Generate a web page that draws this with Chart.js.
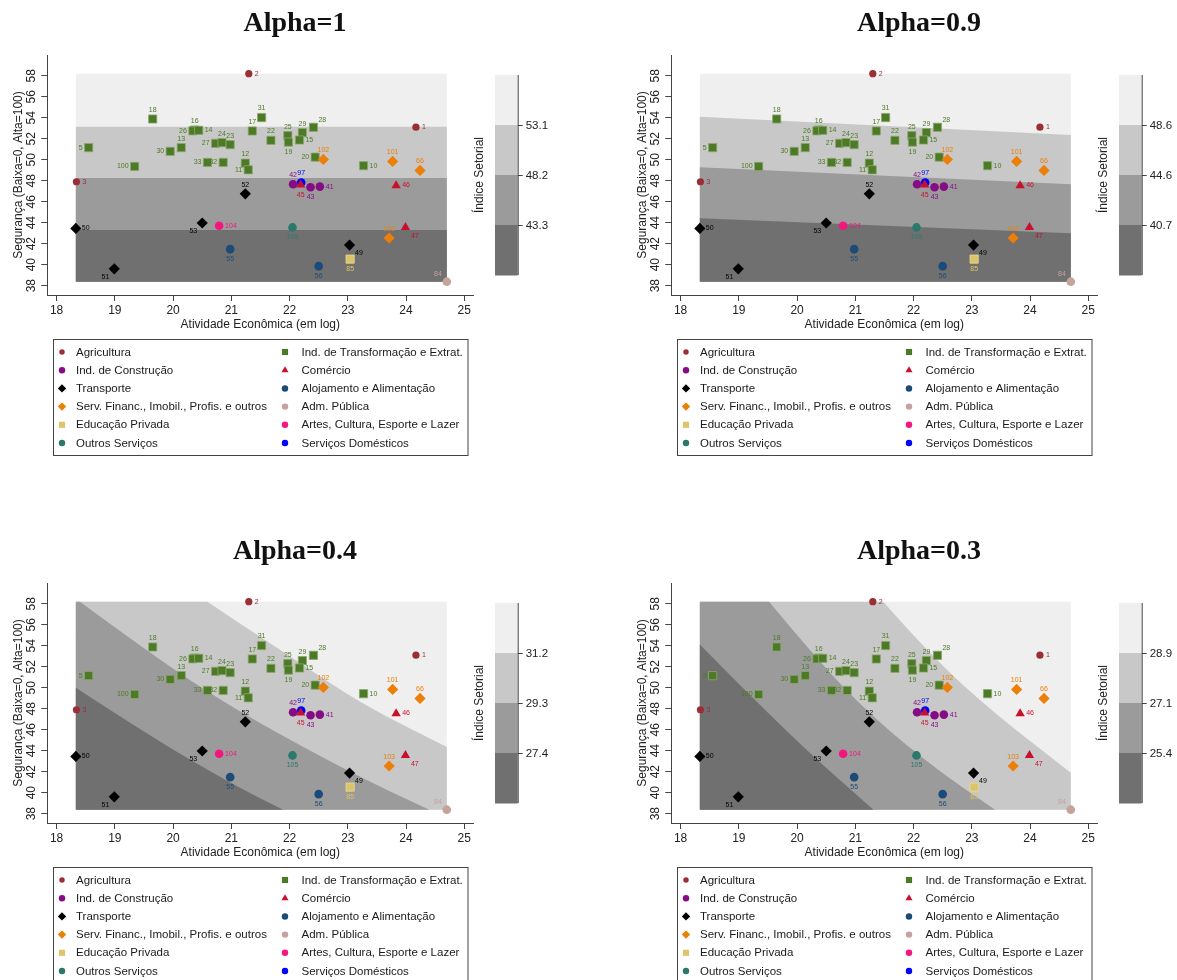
<!DOCTYPE html>
<html>
<head>
<meta charset="utf-8">
<script src="https://cdn.jsdelivr.net/npm/chart.js@4.4.1/dist/chart.umd.min.js"></script>
<style>
html, body { margin: 0; padding: 0; background: #fff; width: 1177px; height: 980px; overflow: hidden; }
.panel { position: absolute; width: 553px; height: 470px; }
</style>
</head>
<body>
<div class="panel" style="left:0px;top:0px"><canvas id="c0" width="553" height="470"></canvas></div>
<div class="panel" style="left:624px;top:0px"><canvas id="c1" width="553" height="470"></canvas></div>
<div class="panel" style="left:0px;top:528px"><canvas id="c2" width="553" height="470"></canvas></div>
<div class="panel" style="left:624px;top:528px"><canvas id="c3" width="553" height="470"></canvas></div>
<script>
// sectors (legend order: first six left column, last six right column)
const sectors = [
    "Agricultura",
    "Ind. de Construção",
    "Transporte",
    "Serv. Financ., Imobil., Profis. e outros",
    "Educação Privada",
    "Outros Serviços",
    "Ind. de Transformação e Extrat.",
    "Comércio",
    "Alojamento e Alimentação",
    "Adm. Pública",
    "Artes, Cultura, Esporte e Lazer",
    "Serviços Domésticos",
];

// point ids, economic activity (log) and safety per sector
const sectorIds = [
    [2, 3, 1],
    [42, 43, 41],
    [52, 50, 53, 51, 49],
    [102, 101, 66, 103],
    [85],
    [105],
    [18, 16, 26, 14, 5, 13, 30, 100, 27, 24, 23, 33, 32, 12, 11, 17, 31, 22, 25, 19, 29, 15, 28, 20, 10],
    [45, 46, 47],
    [55, 56],
    [84],
    [104],
    [97],
];
const sectorX = [
    [21.30, 18.34, 24.17],
    [22.06, 22.36, 22.52],
    [21.24, 18.33, 20.50, 18.99, 23.03],
    [22.58, 23.77, 24.24, 23.71],
    [23.04],
    [22.05],
    [19.65, 20.37, 20.34, 20.44, 18.55, 20.14, 19.95, 19.34, 20.73, 20.84, 20.98, 20.59, 20.86, 21.24, 21.29,
     21.36, 21.52, 21.68, 21.97, 21.98, 22.22, 22.17, 22.41, 22.44, 23.27],
    [22.19, 23.83, 23.99],
    [20.98, 22.50],
    [24.70],
    [20.79],
    [22.20],
];
const sectorY = [
    [58.2, 47.9, 53.1],
    [47.67, 47.38, 47.44],
    [46.75, 43.45, 43.97, 39.6, 41.87],
    [50.03, 49.84, 48.98, 42.54],
    [40.53],
    [43.55],
    [53.88, 52.83, 52.75, 52.8, 51.15, 51.15, 50.8, 49.36, 51.56, 51.63, 51.44, 49.74, 49.74, 49.67, 49.04,
     52.74, 54.02, 51.85, 52.3, 51.68, 52.58, 51.88, 53.09, 50.25, 49.43],
    [47.6, 47.54, 43.55],
    [41.48, 39.86],
    [38.38],
    [43.71],
    [47.83],
];

// panels
const alphaTitles = ["Alpha=1", "Alpha=0.9", "Alpha=0.4", "Alpha=0.3"];
const colorbarLevels = [
    [43.3, 48.2, 53.1],
    [40.7, 44.6, 48.6],
    [27.4, 29.3, 31.2],
    [25.4, 27.1, 28.9],
];
// contour band boundaries (x, y), lightest boundary first
const contourLines = [
    [
        [[18.33, 53.15], [24.70, 53.15]],
        [[18.33, 48.25], [24.70, 48.25]],
        [[18.33, 43.3], [24.70, 43.3]],
    ],
    [
        [[18.33, 54.10], [24.70, 52.36]],
        [[18.33, 49.28], [24.70, 47.66]],
        [[18.33, 44.42], [24.70, 42.99]],
    ],
    [
        [[20.59, 58.2], [20.98, 56.74], [22.0, 53.0], [23.27, 48.33], [24.70, 44.36]],
        [[18.40, 58.2], [19.6, 53.3], [20.98, 48.17], [23.04, 41.9], [24.40, 38.38]],
        [[18.33, 50.0], [19.6, 45.4], [20.98, 40.9], [21.89, 38.38]],
    ],
    [
        [[21.48, 58.2], [22.3, 53.03], [23.4, 47.5], [24.70, 41.9]],
        [[19.52, 58.2], [20.4, 52.3], [21.34, 47.0], [22.4, 42.2], [23.40, 38.38]],
        [[18.33, 54.11], [19.8, 45.8], [21.31, 38.38]],
    ],
];

const xTicks = [18, 19, 20, 21, 22, 23, 24, 25];
const yTicks = [38, 40, 42, 44, 46, 48, 50, 52, 54, 56, 58];

// label position around each marker (clock)
const labelPos = {
    2: 3, 3: 3, 1: 3, 42: 12, 43: 6, 41: 3, 52: 12, 50: 3, 53: 7, 51: 7, 49: 4,
    102: 12, 101: 12, 66: 12, 103: 12, 85: 6, 105: 6,
    18: 12, 16: 12, 26: 9, 14: 3, 5: 9, 13: 12, 30: 9, 100: 9, 27: 9, 24: 12, 23: 12, 33: 9, 32: 9,
    12: 12, 11: 9, 17: 12, 31: 12, 22: 12, 25: 12, 19: 6, 29: 12, 15: 3, 28: 1, 20: 9, 10: 3,
    45: 6, 46: 3, 47: 4, 55: 6, 56: 6, 84: 11, 104: 3, 97: 12,
};

const sectorStyle = [
    { shape: "circle", color: "#9a2e36", r: 3.6 },
    { shape: "circle", color: "#860c86", r: 4.3 },
    { shape: "rectRot", color: "#000000", r: 5.6 },
    { shape: "rectRot", color: "#eb7f08", r: 5.6 },
    { shape: "rect", color: "#dcc46a", r: 5.8, border: "#e9d9a0" },
    { shape: "circle", color: "#2b786c", r: 4.3 },
    { shape: "rect", color: "#4d7a26", r: 5.8, border: "#8ea86e" },
    { shape: "triangle", color: "#c8102e", r: 5.4 },
    { shape: "circle", color: "#1b4b78", r: 4.3 },
    { shape: "circle", color: "#c6a29d", r: 4.3 },
    { shape: "circle", color: "#f5157f", r: 4.3 },
    { shape: "circle", color: "#0000ff", r: 4.3 },
];
const bandColors = ["#efefef", "#c8c8c8", "#9b9b9b", "#707070"];
const FONT = "Liberation Sans, Arial, sans-serif";

const allX = sectorX.flat(), allY = sectorY.flat();
const ext = {
    xmin: Math.min(...allX), xmax: Math.max(...allX),
    ymin: Math.min(...allY), ymax: Math.max(...allY),
};

function drawMarker(ctx, shape, x, y, r, color) {
    ctx.fillStyle = color;
    ctx.beginPath();
    if (shape === "circle") ctx.arc(x, y, r, 0, Math.PI * 2);
    else if (shape === "rect") ctx.rect(x - r * 0.707, y - r * 0.707, r * 1.414, r * 1.414);
    else if (shape === "rectRot") {
        ctx.moveTo(x - r, y); ctx.lineTo(x, y - r); ctx.lineTo(x + r, y); ctx.lineTo(x, y + r); ctx.closePath();
    } else if (shape === "triangle") {
        ctx.moveTo(x, y - r); ctx.lineTo(x + r * 0.866, y + r * 0.5); ctx.lineTo(x - r * 0.866, y + r * 0.5); ctx.closePath();
    }
    ctx.fill();
}

function makeChart(idx) {
    const bandsPlugin = {
        id: "bands" + idx,
        beforeDatasetsDraw(chart) {
            const ctx = chart.ctx, sx = chart.scales.x, sy = chart.scales.y;
            const px = (v) => sx.getPixelForValue(v), py = (v) => sy.getPixelForValue(v);
            ctx.save();
            ctx.fillStyle = bandColors[0];
            ctx.fillRect(px(ext.xmin), py(ext.ymax), px(ext.xmax) - px(ext.xmin), py(ext.ymin) - py(ext.ymax));
            contourLines[idx].forEach((pts, k) => {
                const P = pts.map((p) => [px(p[0]), py(p[1])]);
                ctx.fillStyle = bandColors[k + 1];
                ctx.beginPath();
                ctx.moveTo(P[0][0], P[0][1]);
                for (let i = 1; i < P.length - 1; i++) {
                    ctx.quadraticCurveTo(P[i][0], P[i][1], (P[i][0] + P[i + 1][0]) / 2, (P[i][1] + P[i + 1][1]) / 2);
                }
                ctx.lineTo(P[P.length - 1][0], P[P.length - 1][1]);
                const first = pts[0], last = pts[pts.length - 1];
                if (last[0] >= ext.xmax - 1e-6) ctx.lineTo(px(ext.xmax), py(ext.ymin));
                ctx.lineTo(px(ext.xmin), py(ext.ymin));
                if (first[1] >= ext.ymax - 1e-6 && first[0] > ext.xmin + 1e-6) ctx.lineTo(px(ext.xmin), py(ext.ymax));
                ctx.closePath();
                ctx.fill();
            });
            ctx.restore();
        },
    };

    const labelsPlugin = {
        id: "labels" + idx,
        afterDatasetsDraw(chart) {
            const ctx = chart.ctx;
            ctx.save();
            ctx.font = "7px " + FONT;
            chart.data.datasets.forEach((ds, s) => {
                const meta = chart.getDatasetMeta(s);
                ctx.fillStyle = sectorStyle[s].color;
                meta.data.forEach((el, i) => {
                    const id = ds.data[i].id;
                    const pos = labelPos[id] || 3;
                    let x = el.x, y = el.y;
                    ctx.textBaseline = "middle";
                    if (pos === 3) { ctx.textAlign = "left"; x += 6; }
                    else if (pos === 9) { ctx.textAlign = "right"; x -= 6; }
                    else if (pos === 12) { ctx.textAlign = "center"; y -= 9; }
                    else if (pos === 6) { ctx.textAlign = "center"; y += 10; }
                    else if (pos === 1) { ctx.textAlign = "left"; x += 5; y -= 7.5; }
                    else if (pos === 4) { ctx.textAlign = "left"; x += 5.5; y += 8.5; }
                    else if (pos === 7) { ctx.textAlign = "right"; x -= 5; y += 8.5; }
                    else if (pos === 11) { ctx.textAlign = "right"; x -= 5; y -= 7.5; }
                    ctx.fillText(String(id), x, y);
                });
            });
            ctx.restore();
        },
    };

    const decorPlugin = {
        id: "decor" + idx,
        afterDraw(chart) {
            const ctx = chart.ctx, sy = chart.scales.y;
            ctx.save();
            // title
            ctx.fillStyle = "#111";
            ctx.font = "bold 28px Liberation Serif, serif";
            ctx.textAlign = "center";
            ctx.textBaseline = "alphabetic";
            ctx.fillText(alphaTitles[idx], 295, 31);
            // y tick labels, rotated
            ctx.font = "12px " + FONT;
            ctx.fillStyle = "#222";
            yTicks.forEach((v) => {
                ctx.save();
                ctx.translate(32, sy.getPixelForValue(v));
                ctx.rotate(-Math.PI / 2);
                ctx.textAlign = "center";
                ctx.textBaseline = "middle";
                ctx.fillText(String(v), 0, 0);
                ctx.restore();
            });
            // colour bar
            const cbL = 495, cbR = 517.7, cbT = 75, cbB = 275, seg = (cbB - cbT) / 4;
            for (let k = 0; k < 4; k++) {
                ctx.fillStyle = bandColors[k];
                ctx.fillRect(cbL, cbT + k * seg, cbR - cbL, seg + 0.5);
            }
            ctx.strokeStyle = "#444";
            ctx.lineWidth = 1;
            ctx.beginPath();
            ctx.moveTo(cbR + 0.5, cbT);
            ctx.lineTo(cbR + 0.5, cbB);
            ctx.stroke();
            ctx.font = "11.5px " + FONT;
            ctx.fillStyle = "#222";
            ctx.textAlign = "left";
            ctx.textBaseline = "middle";
            const lv = colorbarLevels[idx];
            for (let k = 1; k <= 3; k++) {
                const yy = Math.round(cbT + k * seg) + 0.5;
                ctx.beginPath();
                ctx.moveTo(cbR, yy);
                ctx.lineTo(cbR + 5, yy);
                ctx.stroke();
                ctx.fillText(lv[3 - k].toFixed(1), cbR + 8, yy);
            }
            ctx.save();
            ctx.translate(480, 175);
            ctx.rotate(-Math.PI / 2);
            ctx.textAlign = "center";
            ctx.font = "12px " + FONT;
            ctx.fillText("Índice Setorial", 0, 0);
            ctx.restore();
            // legend box
            ctx.strokeStyle = "#444";
            ctx.strokeRect(53.5, 339.5, 414.5, 116);
            ctx.font = "11.5px " + FONT;
            ctx.textAlign = "left";
            sectors.forEach((name, s) => {
                const col = s < 6 ? 0 : 1, row = s % 6;
                const yy = 352 + row * 18.2;
                const mx = col === 0 ? 62 : 285, tx = col === 0 ? 76 : 301.5;
                const st = sectorStyle[s];
                drawMarker(ctx, st.shape, mx, yy, st.r * 0.75, st.color);
                ctx.fillStyle = "#1a1a1a";
                ctx.fillText(name, tx, yy + 0.5);
            });
            ctx.restore();
        },
    };

    const datasets = sectors.map((name, s) => ({
        label: name,
        data: sectorX[s].map((x, i) => ({ x: x, y: sectorY[s][i], id: sectorIds[s][i] })),
        pointStyle: sectorStyle[s].shape,
        pointRadius: sectorStyle[s].r,
        pointHoverRadius: sectorStyle[s].r,
        backgroundColor: sectorStyle[s].color,
        borderColor: sectorStyle[s].border || sectorStyle[s].color,
        borderWidth: sectorStyle[s].border ? 0.8 : 0,
    }));

    return new Chart(document.getElementById("c" + idx), {
        type: "scatter",
        data: { datasets: datasets },
        options: {
            responsive: false,
            animation: false,
            layout: { padding: { left: 0, top: 55, right: 79.7, bottom: 135 } },
            plugins: {
                legend: { display: false },
                title: { display: false },
                tooltip: { enabled: false },
            },
            scales: {
                x: {
                    type: "linear",
                    min: 17.84,
                    max: 25.155,
                    afterBuildTicks: (s) => { s.ticks = xTicks.map((v) => ({ value: v })); },
                    afterFit: (s) => { s.height = 40; },
                    grid: { display: true, drawOnChartArea: false, drawTicks: true, tickLength: 6, color: "#444", tickColor: "#444" },
                    border: { display: true, color: "#444", width: 1 },
                    ticks: {
                        font: { family: FONT, size: 12 },
                        color: "#222",
                        padding: 2,
                        maxRotation: 0,
                        autoSkip: false,
                        callback: (v) => String(v),
                    },
                    title: {
                        display: true,
                        text: "Atividade Econômica (em log)",
                        font: { family: FONT, size: 12 },
                        color: "#222",
                        padding: { top: 0, bottom: 3 },
                    },
                },
                y: {
                    type: "linear",
                    min: 37.11,
                    max: 59.98,
                    afterBuildTicks: (s) => { s.ticks = yTicks.map((v) => ({ value: v })); },
                    afterFit: (s) => { s.width = 47.3; },
                    grid: { display: true, drawOnChartArea: false, drawTicks: true, tickLength: 6, color: "#444", tickColor: "#444" },
                    border: { display: true, color: "#444", width: 1 },
                    ticks: { display: false },
                    title: {
                        display: true,
                        text: "Segurança (Baixa=0, Alta=100)",
                        font: { family: FONT, size: 12 },
                        color: "#222",
                        padding: { top: 11, bottom: 0 },
                    },
                },
            },
        },
        plugins: [bandsPlugin, labelsPlugin, decorPlugin],
    });
}

[0, 1, 2, 3].forEach(makeChart);
</script>
</body>
</html>
